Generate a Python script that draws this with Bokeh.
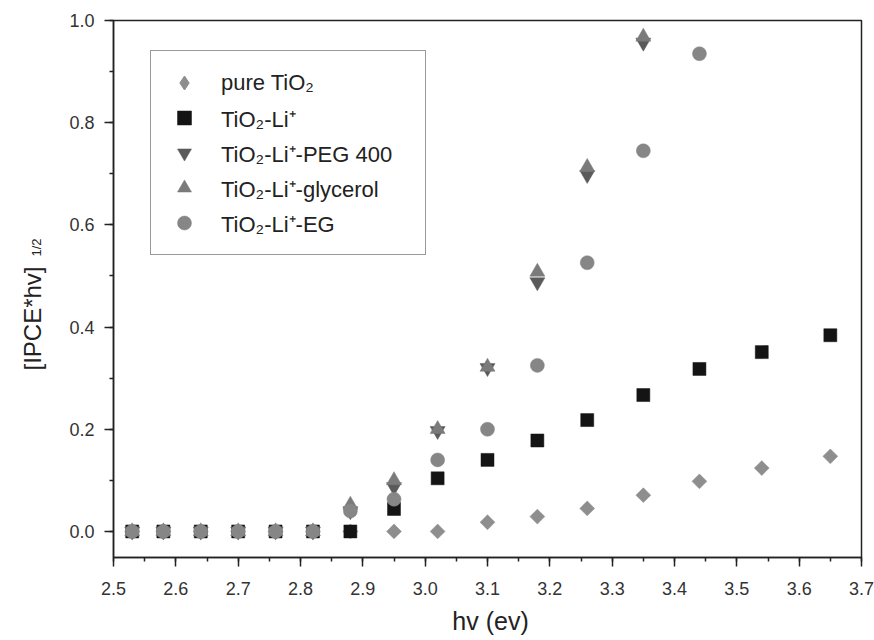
import math
from bokeh.plotting import figure
from bokeh.models import (Label, Legend, LegendItem, SingleIntervalTicker,
                          PrintfTickFormatter, Range1d)
from bokeh.embed import file_html
from bokeh.resources import INLINE

# ---- data ----
hv = [2.53, 2.58, 2.64, 2.70, 2.76, 2.82, 2.88, 2.95, 3.02, 3.10,
      3.18, 3.26, 3.35, 3.44, 3.54, 3.65]

pure_tio2 = [0.0, 0.0, 0.0, 0.0, 0.0, 0.0, 0.0, 0.0, 0.0, 0.018,
             0.029, 0.045, 0.071, 0.098, 0.124, 0.147]
tio2_li = [0.0, 0.0, 0.0, 0.0, 0.0, 0.0, 0.0, 0.044, 0.104, 0.140,
           0.178, 0.218, 0.267, 0.318, 0.351, 0.384]
tio2_li_peg = [0.0, 0.0, 0.0, 0.0, 0.0, 0.0, 0.040, 0.087, 0.197, 0.320,
               0.488, 0.698, 0.957]
tio2_li_gly = [0.0, 0.0, 0.0, 0.0, 0.0, 0.0, 0.052, 0.100, 0.200, 0.322,
               0.508, 0.713, 0.968]
tio2_li_eg = [0.0, 0.0, 0.0, 0.0, 0.0, 0.0, 0.040, 0.063, 0.140, 0.200,
              0.325, 0.526, 0.745, 0.935]

labels = ["pure TiO\u2082", "TiO\u2082-Li\u207a", "TiO\u2082-Li\u207a-PEG 400",
          "TiO\u2082-Li\u207a-glycerol", "TiO\u2082-Li\u207a-EG"]
x_title = "hv (ev)"
y_title = "[IPCE*hv]"
y_title_sup = "1/2"

FONT = "Liberation Sans"
TXT = "#222222"
GRAY = "#8e8e8e"

p = figure(width=874, height=640, output_backend="svg", toolbar_location=None,
           x_range=Range1d(2.5, 3.7), y_range=Range1d(-0.051, 1.0),
           min_border_left=113, min_border_right=13, min_border_top=20,
           min_border_bottom=83)
p.grid.visible = False
p.outline_line_color = "#222222"
p.outline_line_width = 1.5
p.background_fill_color = "white"
p.border_fill_color = "white"

# legend swatch for pure TiO2: a diamond drawn underneath the rotated squares
# (legend glyphs ignore the marker angle)
dia_swatch = p.scatter(hv[:len(pure_tio2)], pure_tio2, marker="diamond",
                       size=13, fill_color=GRAY, line_color=GRAY)

series = [
    (hv[:len(pure_tio2)], pure_tio2, "square", math.pi / 4, 10.5, GRAY),
    (hv[:len(tio2_li)], tio2_li, "square", 0.0, 13, "#141414"),
    (hv[:len(tio2_li_peg)], tio2_li_peg, "inverted_triangle", 0.0, 15, "#5a5a5a"),
    (hv[:len(tio2_li_gly)], tio2_li_gly, "triangle", 0.0, 15, "#7a7a7a"),
    (hv[:len(tio2_li_eg)], tio2_li_eg, "circle", 0.0, 14, "#868686"),
]
renderers = []
for xs, ys, mk, ang, sz, col in series:
    r = p.scatter(xs, ys, marker=mk, angle=ang, size=sz, fill_color=col,
                  line_color=col, line_width=0.5)
    renderers.append(r)
legend_renderers = [dia_swatch] + renderers[1:]

# axes
p.xaxis.ticker = SingleIntervalTicker(interval=0.1, num_minor_ticks=2)
p.yaxis.ticker = SingleIntervalTicker(interval=0.2, num_minor_ticks=2)
p.xaxis.formatter = PrintfTickFormatter(format="%.1f")
p.yaxis.formatter = PrintfTickFormatter(format="%.1f")
for ax in (p.xaxis, p.yaxis):
    ax.axis_line_color = "#222222"
    ax.axis_line_width = 1.5
    ax.major_tick_line_color = "#222222"
    ax.major_tick_line_width = 1.5
    ax.minor_tick_line_color = "#222222"
    ax.minor_tick_line_width = 1.5
    ax.major_tick_in = 0
    ax.major_tick_out = 9
    ax.minor_tick_in = 0
    ax.minor_tick_out = 4
    ax.major_label_text_font = FONT
    ax.major_label_text_font_size = "18px"
    ax.major_label_text_color = "#333333"
p.xaxis.major_label_standoff = 15
p.yaxis.major_label_standoff = 10

# axis titles, placed in the side panels
p.add_layout(Label(x=377, y=5, x_units="screen", y_units="screen",
                   text=x_title, text_align="center", text_baseline="middle",
                   text_font=FONT, text_font_size="25px",
                   text_color=TXT), "below")
p.add_layout(Label(x=-7, y=239, x_units="screen", y_units="screen",
                   text=y_title, angle=math.pi / 2, text_align="center",
                   text_baseline="middle", text_font=FONT,
                   text_font_size="24px", text_color=TXT), "left")
p.add_layout(Label(x=12, y=310, x_units="screen", y_units="screen",
                   text=y_title_sup, angle=math.pi / 2, text_align="center",
                   text_baseline="middle", text_font=FONT,
                   text_font_size="13px", text_color=TXT), "left")

legend = Legend(items=[LegendItem(label=l, renderers=[r])
                       for l, r in zip(labels, legend_renderers)],
                location=(37, 302))
legend.label_text_font = FONT
legend.label_text_font_size = "22px"
legend.label_text_color = TXT
legend.label_height = 35
legend.label_width = 190
legend.glyph_height = 35
legend.glyph_width = 38
legend.label_standoff = 18
legend.spacing = 0
legend.padding = 14
legend.margin = 0
legend.border_line_color = "#333333"
legend.border_line_width = 1.5
legend.background_fill_alpha = 1.0
p.add_layout(legend)

open("out.html", "w").write(file_html(p, INLINE))
